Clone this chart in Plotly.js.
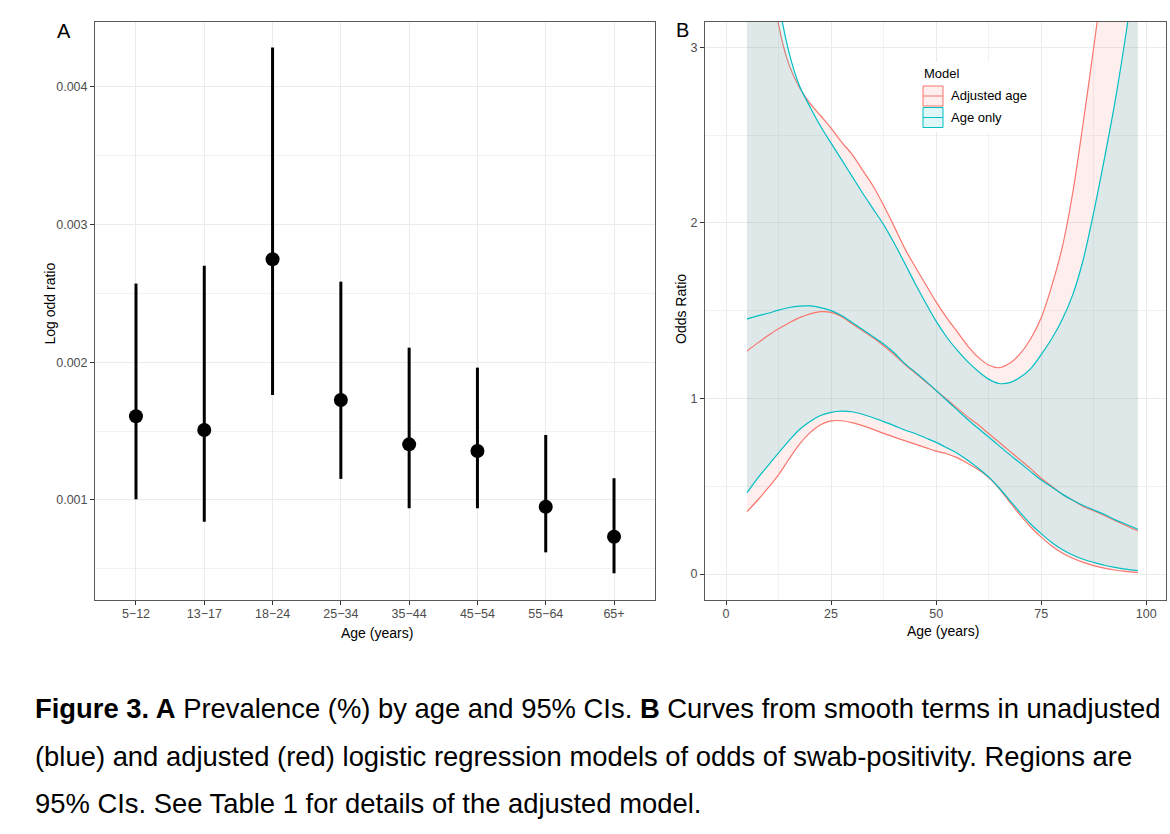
<!DOCTYPE html>
<html>
<head>
<meta charset="utf-8">
<script src="https://cdn.plot.ly/plotly-3.0.1.min.js"></script>
<style>
html,body{margin:0;padding:0;background:#fff;}
#chart{width:1170px;height:834px;}
</style>
</head>
<body>
<div id="chart"></div>
<script>
// ---------- Panel A data ----------
const ageGroups = ["5\u221212","13\u221217","18\u221224","25\u221234","35\u221244","45\u221254","55\u221264","65+"];
const logOdds      = [0.001608,0.001508,0.002748,0.001726,0.001404,0.001356,0.000951,0.000733];
const logOddsLower = [0.001005,0.000842,0.001762,0.001153,0.000940,0.000940,0.000620,0.000468];
const logOddsUpper = [0.002571,0.002700,0.004285,0.002585,0.002106,0.001961,0.001472,0.001158];
const yTicksA = [0.001,0.002,0.003,0.004];

// ---------- Panel B data ----------
const ageYears = [5,7.5,10,12.5,15,17.5,20,22.5,25,27.5,30,32.5,35,37.5,40,42.5,45,47.5,50,52.5,55,57.5,60,62.5,65,67.5,70,72.5,75,77.5,80,82.5,85,87.5,90,92.5,95,98];
const adjFit   = [1.27,1.315,1.358,1.397,1.43,1.46,1.482,1.494,1.49,1.465,1.425,1.385,1.345,1.30,1.25,1.195,1.145,1.095,1.045,0.995,0.945,0.895,0.85,0.80,0.75,0.70,0.65,0.60,0.545,0.50,0.455,0.42,0.385,0.36,0.333,0.305,0.278,0.245];
const adjLower = [0.355,0.42,0.49,0.565,0.655,0.74,0.805,0.85,0.872,0.873,0.862,0.845,0.824,0.801,0.78,0.76,0.74,0.72,0.70,0.685,0.663,0.63,0.595,0.55,0.487,0.41,0.335,0.268,0.21,0.16,0.12,0.09,0.066,0.048,0.034,0.023,0.015,0.008];
const adjUpper = [4.6,4.1,3.6,3.13,2.9,2.77,2.68,2.61,2.54,2.46,2.39,2.30,2.21,2.10,1.98,1.856,1.75,1.65,1.55,1.46,1.38,1.30,1.235,1.19,1.175,1.2,1.255,1.34,1.46,1.64,1.86,2.17,2.57,3.0,3.45,3.95,4.5,5.2];
const ageOnlyFit   = [1.452,1.47,1.485,1.503,1.518,1.526,1.527,1.517,1.50,1.472,1.432,1.392,1.352,1.31,1.26,1.20,1.15,1.10,1.045,0.99,0.935,0.88,0.83,0.78,0.73,0.68,0.632,0.583,0.535,0.495,0.455,0.42,0.39,0.365,0.34,0.31,0.285,0.255];
const ageOnlyLower = [0.463,0.545,0.617,0.69,0.76,0.823,0.868,0.903,0.921,0.928,0.924,0.91,0.89,0.868,0.845,0.82,0.80,0.775,0.75,0.72,0.688,0.648,0.603,0.553,0.49,0.42,0.35,0.285,0.23,0.18,0.14,0.108,0.084,0.066,0.05,0.038,0.028,0.019];
const ageOnlyUpper = [4.8,4.3,3.8,3.27,2.97,2.78,2.66,2.55,2.454,2.36,2.265,2.17,2.08,1.99,1.885,1.771,1.655,1.545,1.44,1.35,1.275,1.21,1.155,1.11,1.085,1.09,1.12,1.17,1.25,1.34,1.45,1.59,1.79,2.06,2.36,2.68,3.05,3.55];

const modelNames = ["Adjusted age","Age only"];
const modelColors = ["#F8766D","#00BFC4"];
const modelFills = ["rgba(248,118,109,0.12)","rgba(0,191,196,0.12)"];

const captionLines = [
  "<b>Figure 3. A</b> Prevalence (%) by age and 95% CIs. <b>B</b> Curves from smooth terms in unadjusted",
  "(blue) and adjusted (red) logistic regression models of odds of swab-positivity. Regions are",
  "95% CIs. See Table 1 for details of the adjusted model."
];

// ---------- helpers ----------
const W = 1170, H = 834;
const px = v => v / W;
const py = v => 1 - v / H;
const FONT = "Liberation Sans, Arial, Helvetica, sans-serif";
const TICKCOL = "#4d4d4d";

const traces = [];

// Panel A
traces.push({
  type: "scatter", mode: "markers", xaxis: "x", yaxis: "y",
  x: ageGroups, y: logOdds,
  marker: {size: 14, color: "#000"},
  error_y: {
    type: "data", symmetric: false,
    array: logOddsUpper.map((u, i) => u - logOdds[i]),
    arrayminus: logOdds.map((v, i) => v - logOddsLower[i]),
    color: "#000", thickness: 3, width: 0
  },
  hoverinfo: "skip"
});

// Panel B ribbons
const lows = [adjLower, ageOnlyLower];
const highs = [adjUpper, ageOnlyUpper];
const fits = [adjFit, ageOnlyFit];
for (let m = 0; m < 2; m++) {
  traces.push({
    type: "scatter", mode: "lines", xaxis: "x2", yaxis: "y2",
    x: ageYears, y: lows[m],
    line: {color: modelColors[m], width: 1.2, shape: "spline", smoothing: 0.9},
    hoverinfo: "skip", name: modelNames[m]
  });
  traces.push({
    type: "scatter", mode: "lines", xaxis: "x2", yaxis: "y2",
    x: ageYears, y: highs[m], fill: "tonexty", fillcolor: modelFills[m],
    line: {color: modelColors[m], width: 1.2, shape: "spline", smoothing: 0.9},
    hoverinfo: "skip", name: modelNames[m]
  });
}
for (let m = 0; m < 2; m++) {
  traces.push({
    type: "scatter", mode: "lines", xaxis: "x2", yaxis: "y2",
    x: ageYears, y: fits[m],
    line: {color: modelColors[m], width: 1.2, shape: "spline", smoothing: 0.9},
    hoverinfo: "skip", name: modelNames[m]
  });
}

const axisCommon = {
  showline: true, mirror: true, linecolor: "#5a5a5a", linewidth: 1,
  ticks: "outside", ticklen: 4, tickwidth: 1, tickcolor: "#333",
  gridcolor: "#ebebeb", gridwidth: 1, zeroline: false,
  tickfont: {family: FONT, size: 12.5, color: TICKCOL},
  fixedrange: true
};

const layout = {
  width: W, height: H,
  margin: {l: 0, r: 0, t: 0, b: 0},
  paper_bgcolor: "#fff", plot_bgcolor: "#fff",
  showlegend: false,
  font: {family: FONT, color: "#000"},
  xaxis: Object.assign({}, axisCommon, {
    domain: [px(95), px(655)], anchor: "y",
    type: "category", categoryorder: "array", categoryarray: ageGroups,
    range: [-0.6, 7.6], ticklabelstandoff: -2
  }),
  yaxis: Object.assign({}, axisCommon, {
    domain: [py(600), py(22)], anchor: "x",
    range: [0.000274, 0.00447],
    tickvals: yTicksA, tickformat: ".3f",
    minor: {tickvals: [0.0005,0.0015,0.0025,0.0035,0.0045], showgrid: true, gridcolor: "#f2f2f2", gridwidth: 1, ticks: ""}
  }),
  xaxis2: Object.assign({}, axisCommon, {
    domain: [px(705), px(1166)], anchor: "y2",
    range: [-5, 104.7], tick0: 0, dtick: 25, ticklabelstandoff: -2,
    minor: {tick0: 0, dtick: 12.5, showgrid: true, gridcolor: "#f2f2f2", gridwidth: 1, ticks: ""}
  }),
  yaxis2: Object.assign({}, axisCommon, {
    domain: [py(600), py(22)], anchor: "x2",
    range: [-0.148, 3.144], tick0: 0, dtick: 1,
    minor: {tick0: 0, dtick: 0.5, showgrid: true, gridcolor: "#f2f2f2", gridwidth: 1, ticks: ""}
  }),
  shapes: [
    {type: "rect", xref: "paper", yref: "paper", x0: px(915), x1: px(1037), y0: py(62), y1: py(132),
     fillcolor: "#fff", line: {width: 0}, layer: "above"},
    {type: "rect", xref: "paper", yref: "paper", x0: px(923), x1: px(943), y0: py(86), y1: py(106),
     fillcolor: modelFills[0], line: {color: modelColors[0], width: 1}, layer: "above"},
    {type: "line", xref: "paper", yref: "paper", x0: px(923), x1: px(943), y0: py(96), y1: py(96),
     line: {color: modelColors[0], width: 1}, layer: "above"},
    {type: "rect", xref: "paper", yref: "paper", x0: px(923), x1: px(943), y0: py(107.5), y1: py(127.5),
     fillcolor: modelFills[1], line: {color: modelColors[1], width: 1}, layer: "above"},
    {type: "line", xref: "paper", yref: "paper", x0: px(923), x1: px(943), y0: py(117.5), y1: py(117.5),
     line: {color: modelColors[1], width: 1}, layer: "above"}
  ],
  annotations: [
    {text: "A", xref: "paper", yref: "paper", x: px(63.7), y: py(30.8), xanchor: "center", yanchor: "middle",
     showarrow: false, font: {family: FONT, size: 20, color: "#000"}},
    {text: "B", xref: "paper", yref: "paper", x: px(682.7), y: py(30.3), xanchor: "center", yanchor: "middle",
     showarrow: false, font: {family: FONT, size: 20, color: "#000"}},
    {text: "Age (years)", xref: "paper", yref: "paper", x: px(377), y: py(633), xanchor: "center", yanchor: "middle",
     showarrow: false, font: {family: FONT, size: 14, color: "#000"}},
    {text: "Age (years)", xref: "paper", yref: "paper", x: px(943.3), y: py(631), xanchor: "center", yanchor: "middle",
     showarrow: false, font: {family: FONT, size: 14, color: "#000"}},
    {text: "Log odd ratio", xref: "paper", yref: "paper", x: px(49.5), y: py(304), xanchor: "center", yanchor: "middle",
     textangle: -90, showarrow: false, font: {family: FONT, size: 14, color: "#000"}},
    {text: "Odds Ratio", xref: "paper", yref: "paper", x: px(681), y: py(309), xanchor: "center", yanchor: "middle",
     textangle: -90, showarrow: false, font: {family: FONT, size: 14, color: "#000"}},
    {text: "Model", xref: "paper", yref: "paper", x: px(922), y: py(73), xanchor: "left", yanchor: "middle",
     showarrow: false, font: {family: FONT, size: 13, color: "#000"}},
    {text: modelNames[0], xref: "paper", yref: "paper", x: px(949), y: py(96), xanchor: "left", yanchor: "middle",
     showarrow: false, font: {family: FONT, size: 13, color: "#000"}},
    {text: modelNames[1], xref: "paper", yref: "paper", x: px(949), y: py(117.5), xanchor: "left", yanchor: "middle",
     showarrow: false, font: {family: FONT, size: 13, color: "#000"}},
    {text: captionLines[0], xref: "paper", yref: "paper", x: px(33), y: py(708.5), xanchor: "left", yanchor: "middle",
     showarrow: false, font: {family: FONT, size: 27.4, color: "#000"}},
    {text: captionLines[1], xref: "paper", yref: "paper", x: px(33), y: py(756.5), xanchor: "left", yanchor: "middle",
     showarrow: false, font: {family: FONT, size: 27.4, color: "#000"}},
    {text: captionLines[2], xref: "paper", yref: "paper", x: px(33), y: py(803), xanchor: "left", yanchor: "middle",
     showarrow: false, font: {family: FONT, size: 27.4, color: "#000"}}
  ]
};

Plotly.newPlot("chart", traces, layout, {staticPlot: true, displayModeBar: false});
</script>
</body>
</html>
